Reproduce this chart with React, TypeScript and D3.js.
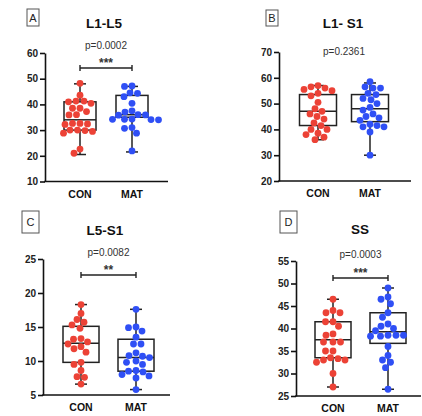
import { useRef, useEffect } from 'react';
import * as d3 from 'd3';

// groups and labels
const categories = ['CON', 'MAT'];
const titles = ['L1-L5', 'L1- S1', 'L5-S1', 'SS'];
const letters = ['A', 'B', 'C', 'D'];
const pLabels = ['p=0.0002', 'p=0.2361', 'p=0.0082', 'p=0.0003'];
const stars = ['***', '', '**', '***'];
const yDomains = [[10, 60], [20, 70], [5, 25], [25, 55]];
const yTicks = [
  [10, 20, 30, 40, 50, 60],
  [20, 30, 40, 50, 60, 70],
  [5, 10, 15, 20, 25],
  [25, 30, 35, 40, 45, 50, 55],
];

// individual values
const conA = [48.2, 43.6, 41.3, 41.3, 41, 40.4, 38.5, 38.5, 37.2, 36, 35.9, 32.6, 32.6, 32.4, 32.2, 30, 30, 29.8, 29.5, 28.8, 22.6, 21];
const matA = [47.2, 47, 44.5, 44.3, 43, 40.4, 37.5, 37, 36, 35.9, 35.8, 34.3, 34.2, 34.2, 34.1, 34, 31, 30.7, 28.8, 21.9];
const conB = [57, 56.5, 56, 55.5, 55, 54, 53, 50.5, 48, 47, 46, 45, 44, 42.5, 41.5, 40, 40, 38.5, 38, 37, 36];
const matB = [58.5, 56.5, 56, 56, 54, 53.5, 52, 51.5, 50, 48.5, 47.5, 46, 45, 44.5, 43.5, 42, 41.5, 41, 41, 39, 30];
const conC = [18.3, 17, 16.1, 15.7, 15.3, 14.8, 13.3, 13.2, 12.8, 12.5, 12.1, 11.8, 11.3, 9.8, 9.5, 8.6, 7.7, 7.6, 6.6];
const matC = [17.6, 15, 14.9, 14.4, 13.5, 12.5, 12.5, 11.2, 10.8, 10.7, 10.5, 10, 9.8, 9.5, 8.6, 8.5, 8.4, 8, 7.8, 7.5, 5.8];
const conD = [46.5, 44, 43.5, 43.5, 41.5, 41.5, 40.5, 38.8, 38.5, 37, 37, 37, 35, 35, 33.5, 33.3, 33, 33, 32.5, 30, 27];
const matD = [49, 47, 46.5, 45.5, 43.5, 42.5, 41, 40.5, 40, 39.5, 38.5, 38.5, 38.5, 38.3, 38.3, 36, 34, 33, 32.5, 31.3, 26.5];

// box stats [min, q1, median, q3, max]
const boxConA = [20.5, 30, 34, 41, 48];
const boxMatA = [21.5, 35, 36, 43.5, 47];
const boxConB = [36, 41.5, 47, 53.5, 57];
const boxMatB = [30, 43, 48, 53.5, 58];
const boxConC = [6.6, 9.8, 12.6, 15.1, 18.3];
const boxMatC = [5.8, 8.5, 10.5, 13.2, 17.6];
const boxConD = [27, 33.5, 37.5, 41.5, 46.5];
const boxMatD = [26.5, 36.7, 39.3, 43.5, 49];

const values = [[conA, matA], [conB, matB], [conC, matC], [conD, matD]];
const boxes = [[boxConA, boxMatA], [boxConB, boxMatB], [boxConC, boxMatC], [boxConD, boxMatD]];

// panel layout (pixels)
const layout = [
  { ax: 45, top: 53, bottom: 181.5, end: 168, con: 80, mat: 132, bw: 32, title: [104, 23], box: [27, 9, 12, 17], p: 49, br: 68 },
  { ax: 279, top: 52, bottom: 181, end: 411, con: 318, mat: 370, bw: 37, title: [343, 23], box: [266, 10, 12, 16], p: 55, br: 0 },
  { ax: 43, top: 259, bottom: 395, end: 170, con: 81, mat: 136, bw: 36, title: [105, 230], box: [22, 211, 17, 22], p: 256, br: 275 },
  { ax: 296, top: 261, bottom: 396, end: 421, con: 333, mat: 388, bw: 36, title: [360, 229], box: [280, 211, 17, 22], p: 258, br: 278 },
];

const colors = ['#ec4236', '#2f4ff5'];
const R = 3.4;

// simple beeswarm: push each point sideways until it no longer overlaps
function dodge(ys: number[], diam: number) {
  const order = d3.range(ys.length).sort((a, b) => ys[a] - ys[b]);
  const placed: { x: number; y: number }[] = [];
  const xs = new Array(ys.length).fill(0);
  for (const i of order) {
    const y = ys[i];
    let found = 0;
    for (let k = 0; k < 200; k++) {
      const off = (k % 2 === 0 ? 1 : -1) * Math.ceil(k / 2) * 0.5;
      const ok = placed.every((p) => (p.x - off) ** 2 + (p.y - y) ** 2 >= diam * diam);
      if (ok) { found = off; break; }
    }
    xs[i] = found;
    placed.push({ x: found, y });
  }
  return xs;
}

export default function App() {
  const svgRef = useRef<SVGSVGElement>(null);

  useEffect(() => {
    const svg = d3.select(svgRef.current);
    svg.selectAll('*').remove();
    const font = 'Liberation Sans, Arial, sans-serif';

    layout.forEach((L, pi) => {
      const g = svg.append('g');
      const y = d3.scaleLinear().domain(yDomains[pi]).range([L.bottom, L.top]);
      const x = d3.scalePoint().domain(categories).range([L.con, L.mat]);

      // letter box
      g.append('rect')
        .attr('x', L.box[0]).attr('y', L.box[1])
        .attr('width', L.box[2]).attr('height', L.box[3])
        .attr('fill', 'white').attr('stroke', '#555').attr('stroke-width', 1);
      g.append('text')
        .attr('x', L.box[0] + L.box[2] / 2).attr('y', L.box[1] + L.box[3] / 2 + 4)
        .attr('text-anchor', 'middle').attr('font-family', font).attr('font-size', 11)
        .attr('fill', '#222').text(letters[pi]);

      g.append('text')
        .attr('x', L.title[0]).attr('y', L.title[1] + 5)
        .attr('text-anchor', 'middle').attr('font-family', font).attr('font-size', 13.5)
        .attr('font-weight', 'bold').attr('fill', '#111').text(titles[pi]);

      const mid = (L.con + L.mat) / 2;
      g.append('text')
        .attr('x', mid).attr('y', L.p)
        .attr('text-anchor', 'middle').attr('font-family', font).attr('font-size', 10)
        .attr('fill', '#333').text(pLabels[pi]);

      if (stars[pi]) {
        g.append('line')
          .attr('x1', L.con).attr('x2', L.mat).attr('y1', L.br).attr('y2', L.br)
          .attr('stroke', '#222').attr('stroke-width', 1.4);
        [L.con, L.mat].forEach((cx) => {
          g.append('line')
            .attr('x1', cx).attr('x2', cx).attr('y1', L.br - 3).attr('y2', L.br + 3)
            .attr('stroke', '#222').attr('stroke-width', 1.4);
        });
        g.append('text')
          .attr('x', mid).attr('y', L.br - 1.5)
          .attr('text-anchor', 'middle').attr('font-family', font).attr('font-size', 12)
          .attr('font-weight', 'bold').attr('fill', '#333').text(stars[pi]);
      }

      // axes
      const yAxis = d3.axisLeft(y).tickValues(yTicks[pi]).tickSize(5).tickSizeOuter(0).tickPadding(2);
      const ya = g.append('g').attr('transform', `translate(${L.ax},0)`).call(yAxis);
      ya.select('.domain').attr('stroke', '#111').attr('stroke-width', 1.6);
      ya.selectAll('.tick line').attr('stroke', '#111').attr('stroke-width', 1.6);
      ya.selectAll('.tick text')
        .attr('font-family', font).attr('font-size', 10).attr('font-weight', 'bold').attr('fill', '#222');

      g.append('line')
        .attr('x1', L.ax - 0.8).attr('x2', L.end).attr('y1', L.bottom).attr('y2', L.bottom)
        .attr('stroke', '#111').attr('stroke-width', 1.6);

      categories.forEach((c) => {
        g.append('text')
          .attr('x', x(c)!).attr('y', L.bottom + 16)
          .attr('text-anchor', 'middle').attr('font-family', font).attr('font-size', 10.5)
          .attr('font-weight', 'bold').attr('fill', '#111').text(c);
      });

      // boxes
      categories.forEach((c, ci) => {
        const [mn, q1, md, q3, mx] = boxes[pi][ci];
        const cx = x(c)!;
        const hw = L.bw / 2;
        const bg = g.append('g').attr('stroke', '#222').attr('stroke-width', 1.5).attr('fill', 'none');
        bg.append('line').attr('x1', cx).attr('x2', cx).attr('y1', y(mx)).attr('y2', y(q3));
        bg.append('line').attr('x1', cx).attr('x2', cx).attr('y1', y(q1)).attr('y2', y(mn));
        bg.append('line').attr('x1', cx - 6).attr('x2', cx + 6).attr('y1', y(mx)).attr('y2', y(mx));
        bg.append('line').attr('x1', cx - 6).attr('x2', cx + 6).attr('y1', y(mn)).attr('y2', y(mn));
        bg.append('rect').attr('x', cx - hw).attr('y', y(q3)).attr('width', L.bw).attr('height', y(q1) - y(q3));
        bg.append('line').attr('x1', cx - hw).attr('x2', cx + hw).attr('y1', y(md)).attr('y2', y(md));
      });

      // points
      categories.forEach((c, ci) => {
        const vals = values[pi][ci];
        const ys = vals.map((v) => y(v));
        const offs = dodge(ys, R * 2 + 0.3);
        g.append('g').selectAll('circle').data(vals).join('circle')
          .attr('cx', (_d, i) => x(c)! + offs[i])
          .attr('cy', (d) => y(d))
          .attr('r', R)
          .attr('fill', colors[ci]);
      });
    });
  }, []);

  return (
    <div>
      <svg ref={svgRef} width={422} height={416} style={{ position: 'absolute', left: 0, top: 0, background: 'white' }} />
    </div>
  );
}
